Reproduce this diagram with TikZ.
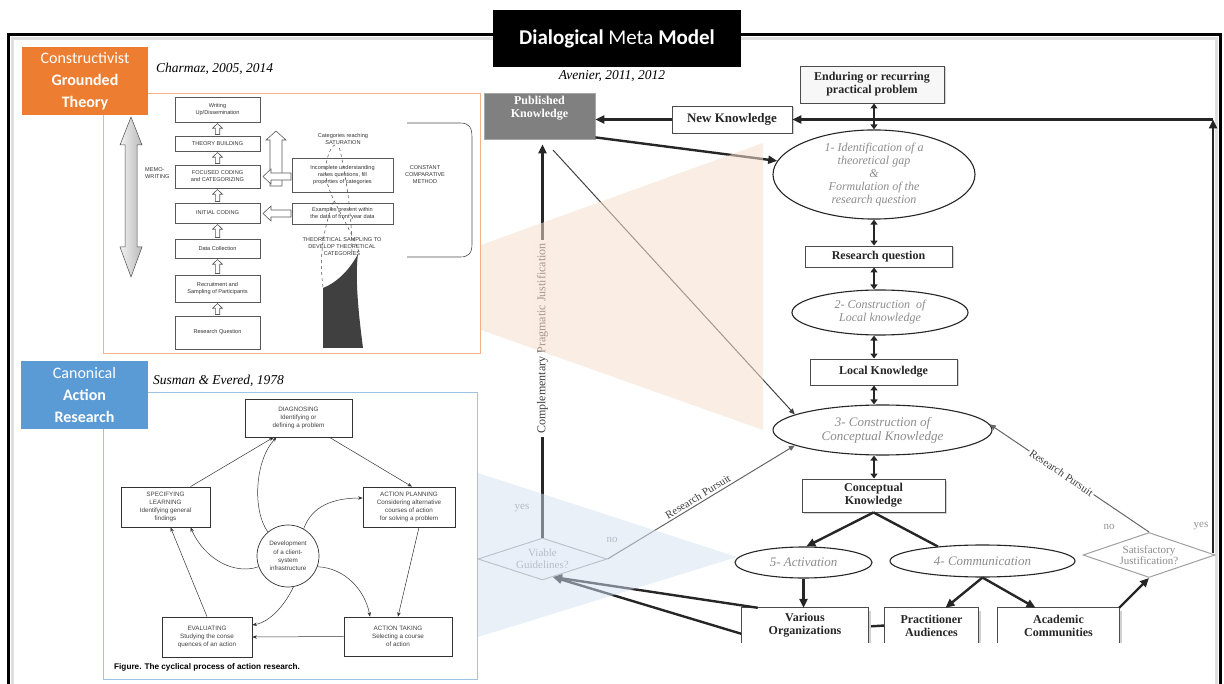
\documentclass[tikz,border=0pt]{standalone}
\usepackage{fontspec}
\setmainfont{Liberation Serif}
\newfontfamily\carl{Carlito}
\newfontfamily\arl{Liberation Sans}
\usetikzlibrary{arrows.meta,shapes.geometric,shadows,calc}
\definecolor{orlab}{HTML}{ED7D31}
\definecolor{bllab}{HTML}{5B9BD5}
\definecolor{orpan}{HTML}{F4B183}
\definecolor{blpan}{HTML}{9DC3E6}
\definecolor{orw}{RGB}{246,222,205}
\definecolor{blw}{RGB}{212,225,242}
\definecolor{pkg}{RGB}{128,128,128}
\newcommand\fs[2]{\fontsize{#1}{#2}\selectfont}
\pgfdeclarelayer{bg}
\pgfdeclarelayer{fg}
\pgfsetlayers{bg,main,fg}
\newcommand\hup[2]{\draw[hol] let \p1=(#1.north), \p2=(#2.south) in
  (\x1-2.2pt,\y1+1.2pt) -- (\x1-2.2pt,\y2-6pt) -- (\x1-5pt,\y2-6pt) -- (\x1,\y2-1.2pt)
  -- (\x1+5pt,\y2-6pt) -- (\x1+2.2pt,\y2-6pt) -- (\x1+2.2pt,\y1+1.2pt) -- cycle;}
\begin{document}
\begin{tikzpicture}[x=1pt,y=-1pt,
  gtb/.style={draw=gray!70!black, line width=0.6pt, fill=white, inner sep=0pt, align=center, font=\arl\fs{5.6}{7}, text=gray!40!black},
  gtt/.style={inner sep=0pt, align=center, font=\arl\fs{5.6}{7}, text=gray!40!black},
  hol/.style={draw=gray!70!black, line width=0.6pt, fill=white},
  arb/.style={draw=black!80, line width=0.7pt, fill=white, inner sep=0pt, align=center, font=\arl\fs{6.3}{8.3}, text=black!75},
  arr/.style={draw=black!80, line width=0.5pt, -{Stealth[length=4.5pt,width=3.5pt]}},
  mb/.style={draw=gray!60!black, line width=0.9pt, fill=white, inner sep=0pt, align=center, font=\bfseries\fs{12}{13}, text=black!85, drop shadow={shadow xshift=1.5pt, shadow yshift=-1.5pt, opacity=0.35}},
  cb/.style={fill=white, inner sep=0pt, align=center, font=\bfseries\fs{12}{13}, text=black!85},
  mel/.style={ellipse, draw=black!85, line width=1.1pt, fill=white, inner sep=0pt, align=center, font=\itshape\fs{12}{13}, text=gray!90},
  dia/.style={diamond, aspect=3, draw=gray!75, line width=1pt, fill=white, inner sep=0pt, align=center, font=\fs{11}{11.5}, text=gray!90},
  thk/.style={draw=black!85, line width=2.4pt},
  thka/.style={thk, -{Triangle[length=9pt,width=8pt]}},
  dbl/.style={thk, {Triangle[length=5pt,width=7pt]}-{Triangle[length=5pt,width=7pt]}},
  tarr/.style={draw=black!75, line width=1pt, -{Triangle[length=6pt,width=5pt]}},
  lbl/.style={font=\fs{11}{11}, text=gray!85}]
\useasboundingbox (0,0) rectangle (1224,684);

% ---------- outer frame ----------
\draw[gray!25, line width=3pt] (12,684) -- (12,39) -- (1216,39) -- (1216,684);
\draw[line width=3pt] (8,684) -- (8,35) -- (1220,35) -- (1220,684);

% ---------- panels ----------
\draw[orpan, line width=0.8pt] (103,93) rectangle (480,353);
\draw[blpan, line width=0.8pt] (103,392) rectangle (477,679);

% ---------- Grounded theory picture ----------
\draw[draw=gray!60!black, line width=0.5pt, left color=gray!10, right color=gray!55]
  (131,117) -- (142,145) -- (137,145) -- (137,247) -- (142,247) -- (131,277)
  -- (120,247) -- (125,247) -- (125,145) -- (120,145) -- cycle;
\node[gtt, anchor=west, align=left] (memo) at (145,173) {MEMO-\\WRITING};
\node[gtb, minimum width=85, minimum height=25] (wr) at (217.5,109.5) {Writing\\Up/Dissemination};
\node[gtb, minimum width=85, minimum height=15] (tb) at (217.5,143.5) {THEORY BUILDING};
\node[gtb, minimum width=85, minimum height=23] (fc) at (217.5,176.5) {FOCUSED CODING\\and CATEGORIZING};
\node[gtb, minimum width=85, minimum height=20] (ic) at (217.5,213) {INITIAL CODING};
\node[gtb, minimum width=85, minimum height=19] (dc) at (217.5,248.5) {Data Collection};
\node[gtb, minimum width=85, minimum height=27] (rs) at (217.5,288.5) {Recruitment and\\Sampling of Participants};
\node[gtb, minimum width=85, minimum height=33] (rq0) at (217.5,332.5) {Research Question};
\hup{rq0}{rs}
\hup{rs}{dc}
\hup{dc}{ic}
\hup{ic}{fc}
\hup{fc}{tb}
\hup{tb}{wr}
\draw[hol] (270,186) -- (270,140) -- (266,140) -- (276,131) -- (286,140) -- (282,140) -- (282,186) -- cycle;
\node[gtb, minimum width=101, minimum height=34] (iu) at (342.5,175) {Incomplete understanding\\raises questions, fill\\properties of categories};
\node[gtb, minimum width=101, minimum height=21] (ex) at (342.5,213.5) {Examples present within\\the data of front year data};
\draw[hol] (291,173) -- (271,173) -- (271,169) -- (263,176.5) -- (271,184) -- (271,180) -- (291,180) -- cycle;
\draw[hol] (291,210) -- (271,210) -- (271,206) -- (263,213.5) -- (271,221) -- (271,217) -- (291,217) -- cycle;
\node[gtt] (sat) at (343,139) {Categories reaching\\SATURATION};
\node[gtt] (ccm) at (425,175) {CONSTANT\\COMPARATIVE\\METHOD};
\node[gtt] (tsd) at (342,247) {THEORETICAL SAMPLING TO\\DEVELOP THEORETICAL\\CATEGORIES};
\draw[gray!60!black, line width=0.6pt] (407,123) -- (460,123) .. controls (470,123) and (472,128) .. (472,138)
  -- (472,244) .. controls (472,254) and (468,257) .. (460,257) -- (407,257);
\fill[gray!50!black] (323,288) -- (323,348) -- (363,348) .. controls (358,310) and (355,276) .. (358,254)
  .. controls (350,269) and (338,282) .. cycle;
\draw[dashed, gray!55!black, line width=0.5pt] (359,252) .. controls (345,215) and (322,190) .. (326,165)
  .. controls (328,152) and (332,146) .. (336,144);
\draw[dashed, gray!55!black, line width=0.5pt] (352,252) .. controls (352,215) and (346,175) .. (339,146);
\draw[dashed, gray!55!black, line width=0.5pt] (323,287) .. controls (318,250) and (326,222) .. (334,200);

% ---------- Action research picture ----------
\node[arb, minimum width=107, minimum height=38] (dg) at (298.5,418) {DIAGNOSING\\Identifying or\\defining a problem};
\node[arb, minimum width=89, minimum height=40] (sl) at (165.5,507) {SPECIFYING\\LEARNING\\Identifying general\\findings};
\node[arb, minimum width=92, minimum height=40] (ap) at (409,507) {ACTION PLANNING\\Considering alternative\\courses of action\\for solving a problem};
\node[arb, minimum width=90, minimum height=40] (ev) at (207,637) {EVALUATING\\Studying the conse\\quences of an action};
\node[arb, minimum width=108, minimum height=39] (at) at (398,636.5) {ACTION TAKING\\Selecting a course\\of action};
\node[arb, circle, minimum size=62] (cc) at (288,556) {Development\\of a client-\\system\\infrastructure};
\node[anchor=west, inner sep=0pt, font=\arl\bfseries\fs{8.2}{9}] (cap) at (114,667) {Figure. The cyclical process of action research.};
\draw[arr] ($(dg.south)+(31,0)$) -- ($(ap.north)+(3,0)$);
\draw[arr] ($(ap.south)+(10,0)$) -- (at.north);
\draw[arr] (at.west) -- (ev.east);
\draw[arr] (ev.north) -- ($(sl.south)+(5,0)$);
\draw[arr] ($(sl.north)+(25,0)$) -- ($(dg.south)+(-25,0)$);
\draw[arr] (cc.130) .. controls (252,510) and (255,460) .. ($(dg.south)+(-22,0)$);
\draw[arr] (cc.60) .. controls (312,505) and (335,498) .. ($(ap.west)+(0,-9)$);
\draw[arr] (cc.-20) .. controls (345,568) and (365,590) .. ($(at.north)+(-28,0)$);
\draw[arr] (cc.-80) .. controls (285,605) and (270,622) .. ($(ev.east)+(0,-12)$);
\draw[arr] (cc.200) .. controls (235,575) and (205,560) .. ($(sl.south)+(25,0)$);

% ---------- Main model ----------
\node[mb, minimum width=144, minimum height=37, fill=gray!6] (ep) at (872,84.5) {Enduring or recurring\\practical problem};
\node[mb, minimum width=120, minimum height=27, font=\bfseries\fs{13}{14}] (nk) at (732,119.5) {New Knowledge};
\node[fill=pkg, draw=gray!70, line width=0.8pt, minimum width=111, minimum height=46, inner sep=0pt] (pk) at (539.5,116) {};
\node[text=white, font=\bfseries\fs{12}{12.5}, align=center, inner sep=0pt] (pkt) at (539.5,108) {Published\\Knowledge};
\node[mel, minimum width=202, minimum height=89] (e1) at (874,174.5) {1- Identification of a\\theoretical gap\\\&\\Formulation of the\\research question};
\node[mb, minimum width=147, minimum height=21] (rq) at (878.5,256.5) {Research question};
\node[mel, minimum width=176, minimum height=45] (e2) at (880,312.5) {2- Construction\ \ of\\Local knowledge};
\node[mb, minimum width=147, minimum height=26] (lk) at (883.5,372) {Local Knowledge};
\node[mel, minimum width=219, minimum height=50, font=\itshape\fs{13}{14}] (e3) at (882.5,430) {3- Construction of\\Conceptual Knowledge};
\node[mb, minimum width=143, minimum height=33] (ck) at (873.5,495.5) {Conceptual\\Knowledge};
\node[mel, minimum width=137, minimum height=31, font=\itshape\fs{13}{14}] (e5) at (803.5,562.5) {5- Activation};
\node[mel, minimum width=185, minimum height=32, font=\itshape\fs{13}{14}] (e4) at (982.5,561) {4- Communication};
\node[cb, minimum width=126, minimum height=35] (vo) at (805,625.5) {Various\\Organizations};
\node[cb, minimum width=93, minimum height=35] (pa) at (931.5,625.5) {Practitioner\\Audiences};
\node[cb, minimum width=121, minimum height=35] (ac) at (1058.5,625.5) {Academic\\Communities};
\foreach \b in {vo,pa,ac}{
  \draw[gray!35, line width=1.5pt] ($(\b.north east)+(2,3)$) -- ($(\b.south east)+(2,0)$);
  \draw[gray!60!black, line width=0.9pt] (\b.south west) |- (\b.north east) -- (\b.south east);
}
\node[dia, minimum width=132, minimum height=45] (sj) at (1149,555) {Satisfactory\\Justification?};
\node[dia, minimum width=129, minimum height=42, draw=gray!70, text=gray!80] (vg) at (542.5,559) {Viable\\Guidelines?};

\draw[dbl] (e1.north|-ep.south) -- (e1.north);
\draw[dbl] (e1.south) -- (e1.south|-rq.north);
\draw[dbl] (e1.south|-rq.south) -- (e1.south|-e2.north);
\draw[dbl] (e1.south|-e2.south) -- (e1.south|-lk.north);
\draw[dbl] (e1.south|-lk.south) -- (e1.south|-e3.north);
\draw[dbl] (e1.south|-e3.south) -- (e1.south|-ck.north);

\coordinate (yup) at (1213,553);
\coordinate (cr) at (yup|-nk.east);
\draw[thka] (yup) -- (cr);
\draw[thka] (cr) -- (nk.east);
\draw[thka] (nk.west) -- (nk.west-|pk.east);
\draw[thka] ($(pk.south east)+(0,-2)$) -- (e1.172);
\coordinate (pkb) at (553,150);
\draw[tarr] (pkb) -- (e3.170);
\draw[thka, shorten >=5pt] (vg.north) -- (vg.north|-pk.south)
  node[midway, rotate=90, fill=white, inner sep=3pt, font=\fs{12}{12}, text=black!75] (cpj) {Complementary Pragmatic Justification};
\draw[tarr, draw=black!60] (vg.east) -- (e3.190)
  node[midway, above, sloped, font=\fs{11}{11}, text=black!75, inner sep=2pt] (rp1) {Research Pursuit};
\draw[tarr, draw=black!60] (sj.north) -- (e3.3)
  node[pos=0.55, sloped, fill=white, font=\fs{11}{11}, text=black!75, inner sep=1.5pt] (rp2) {Research Pursuit};
\node[lbl] (no1) at (612,540) {no};
\node[lbl] (yes1) at (522,508) {yes};
\node[lbl] (no2) at (1109,527) {no};
\node[lbl] (yes2) at (1201,526) {yes};

\draw[thka] (ck.south) -- (e5.80);
\draw[thk] (ck.south) -- (e4.162);
\draw[thka] (e5.south) -- (e5.south|-vo.north);
\draw[thka] (e4.south) -- ($(pa.north)+(14,0)$);
\draw[thka] (e4.south) -- ($(ac.north)+(-23,0)$);
\draw[thka] (ac.north east) -- (sj.south);
\draw[thka] ($(vo.north west)+(16,0)$) -- (vg.-60);
\begin{pgfonlayer}{bg}
\coordinate (vol) at (742,634);
\draw[thka] (pa.west) -- (vol) -- (vg.-60);
\end{pgfonlayer}

% ---------- translucent wedges ----------
\begin{pgfonlayer}{fg}
\fill[orw, opacity=0.55] (481,245) -- (763,143) -- (763,430) -- (481,330) -- cycle;
\fill[blw, opacity=0.5] (478,473) -- (737,557) -- (478,637) -- cycle;
\end{pgfonlayer}

% ---------- labels and titles ----------
\node[fill=black, minimum width=248, minimum height=57, inner sep=0pt, text=white, font=\carl\fs{21}{24}] (title) at (617,38.5) {\textbf{Dialogical} Meta \textbf{Model}};
\node[fill=orlab, minimum width=126, minimum height=68, inner sep=0pt, text=white, align=center, font=\carl\fs{16}{22}] (gtlab) at (85,81) {Constructivist\\\textbf{Grounded}\\\textbf{Theory}};
\node[fill=bllab, minimum width=127, minimum height=68, inner sep=0pt, text=white, align=center, font=\carl\fs{16}{22}] (arlab) at (84.5,395) {Canonical\\\textbf{Action}\\\textbf{Research}};
\node[anchor=west, inner sep=0pt, font=\itshape\fs{13.5}{15}] (c1) at (156,69) {Charmaz, 2005, 2014};
\node[anchor=west, inner sep=0pt, font=\itshape\fs{13.5}{15}] (c2) at (153,381) {Susman \& Evered, 1978};
\node[inner sep=0pt, font=\itshape\fs{13.5}{15}] (c3) at (612,76) {Avenier, 2011, 2012};
\end{tikzpicture}
\end{document}
